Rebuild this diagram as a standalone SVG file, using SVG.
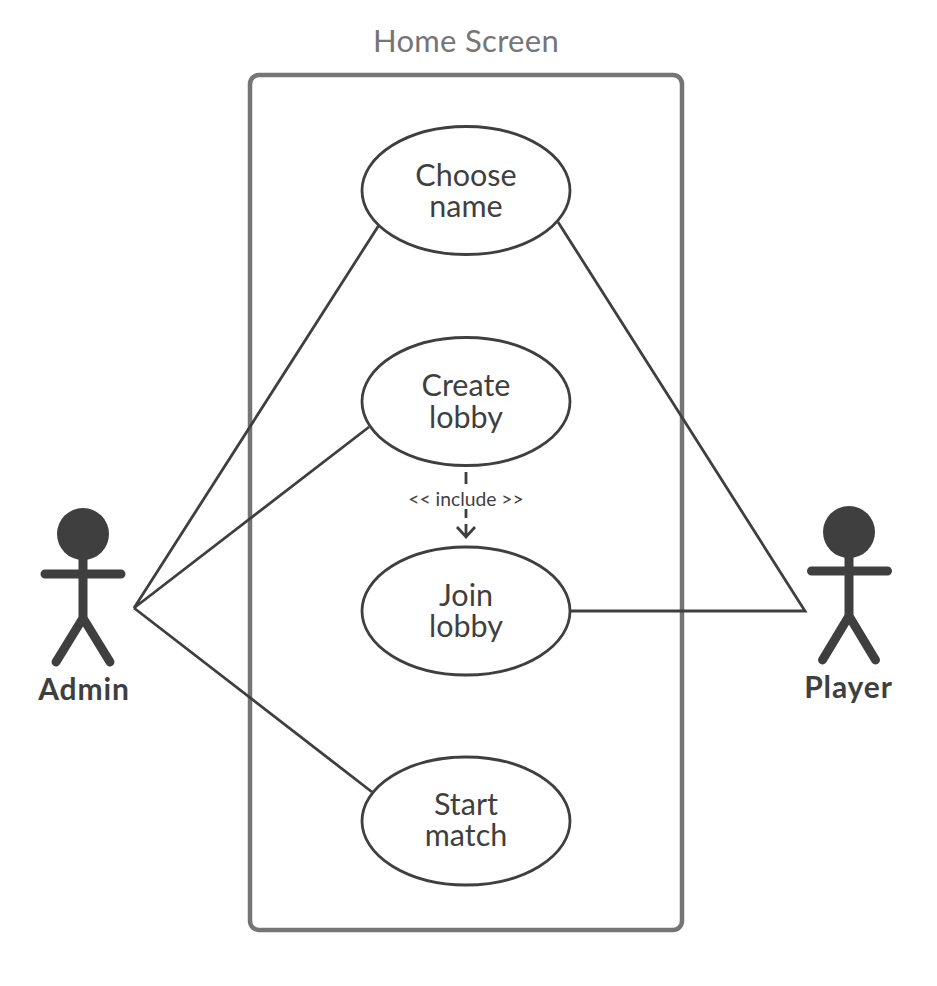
<svg xmlns="http://www.w3.org/2000/svg" width="937" height="986" viewBox="0 0 937 986">
<style>
text{font-family:"Lato","Noto Sans",sans-serif;text-anchor:middle;fill:#3f3f3f}
.uc{fill:#fff;stroke:#3f3f3f;stroke-width:2.8}
.lbl{font-size:30.5px}
.act{font-size:30px;font-weight:700;letter-spacing:.9px}
.lim{stroke:#3f3f3f;stroke-width:9;stroke-linecap:round;stroke-linejoin:round;fill:none}
.conn{stroke:#3f3f3f;stroke-width:2.8;fill:none}
</style>
<rect width="937" height="986" fill="#fff"/>
<g id="boundary">
<rect x="250" y="75" width="432" height="855" rx="9" fill="#fff" stroke="#757575" stroke-width="4.5"/>
<text x="466" y="52" font-size="31" letter-spacing=".3" style="fill:#757575">Home Screen</text>
</g>
<g id="connectors">
<path class="conn" d="M379 225L134 608L369 427M134 608L372 792"/>
<path class="conn" d="M558 222L805 611L570 611"/>
<path class="conn" d="M466 472V484M466 509V518M466 524V536M457 527L466 537L475 527"/>
</g>
<g id="choose-name"><ellipse class="uc" cx="466" cy="190.5" rx="104" ry="64"/><text class="lbl"><tspan x="466" y="186">Choose</tspan><tspan x="466" y="217">name</tspan></text></g>
<g id="create-lobby"><ellipse class="uc" cx="466" cy="401.5" rx="104" ry="64"/><text class="lbl"><tspan x="466" y="396">Create</tspan><tspan x="466" y="428">lobby</tspan></text></g>
<g id="include-label"><text x="466" y="506" font-size="19.3">&lt;&lt; include &gt;&gt;</text></g>
<g id="join-lobby"><ellipse class="uc" cx="466" cy="611" rx="104" ry="64"/><text class="lbl"><tspan x="466" y="606">Join</tspan><tspan x="466" y="637">lobby</tspan></text></g>
<g id="start-match"><ellipse class="uc" cx="466" cy="821" rx="104" ry="64"/><text class="lbl"><tspan x="466" y="815">Start</tspan><tspan x="466" y="846">match</tspan></text></g>
<g id="admin"><circle cx="83" cy="534" r="26" fill="#3f3f3f"/><path class="lim" d="M45 574H121M83 555V618L56 662M83 618L110 662"/><text class="act" x="84" y="700">Admin</text></g>
<g id="player"><circle cx="849" cy="532" r="26" fill="#3f3f3f"/><path class="lim" d="M811.5 571H887.5M849 553V616L822.5 660M849 616L875.5 660"/><text class="act" x="848.5" y="698">Player</text></g>
</svg>
